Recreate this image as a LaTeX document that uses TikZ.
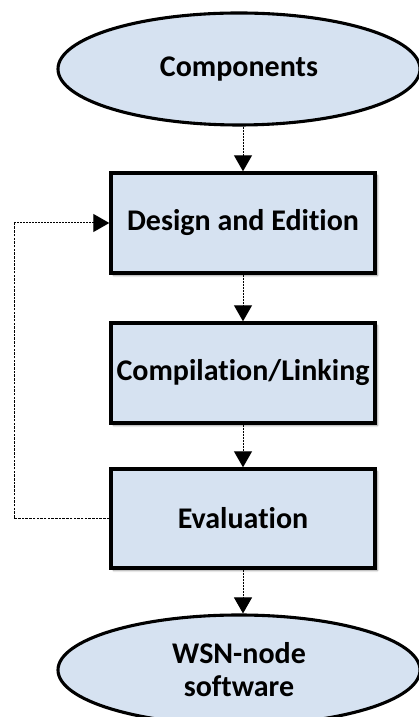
\documentclass[tikz,border=0pt]{standalone}
\usepackage{fontspec}
\setmainfont{Carlito}[Ligatures=NoCommon]
\usetikzlibrary{arrows.meta,shapes.geometric,shadows.blur}

\definecolor{boxfill}{RGB}{214,226,241}

\tikzset{
  stagebox/.style={draw=black, line width=3.4pt, fill=boxfill,
    minimum width=264pt, minimum height=100pt, inner sep=0pt,
    font=\fontsize{30}{36}\selectfont\bfseries,
    blur shadow={shadow xshift=2.5pt, shadow yshift=-2.5pt, shadow blur steps=6, shadow opacity=40}},
  endpoint/.style={ellipse, draw=black, line width=3.1pt, fill=boxfill,
    minimum width=362pt, minimum height=112pt, inner sep=0pt, align=center,
    font=\fontsize{30}{33}\selectfont\bfseries},
  flow/.style={line width=1pt, dash pattern=on 2pt off 1pt,
    -{Triangle[width=18pt,length=16pt]}},
  loopline/.style={line width=1pt, dash pattern=on 2.5pt off 1.2pt}
}

\begin{document}
\begin{tikzpicture}[x=1pt,y=1pt]
  \useasboundingbox (0,0) rectangle (419,717);

  \node[endpoint] (comp) at (239,648) {Components};
  \node[stagebox] (design) at (243,494) {Design and Edition};
  \node[stagebox] (compile) at (243,344) {Compilation/Linking};
  \node[stagebox, minimum height=99pt] (eval) at (243,198.5) {Evaluation};
  \node[endpoint, minimum height=110pt] (sw) at (239,47) {WSN-node\\software};

  \coordinate (loopbot) at (14,198.5);
  \coordinate (looptop) at (14,494);

  \draw[flow] (comp.south -| design.north) -- (design.north);
  \draw[flow] (design.south) -- (compile.north);
  \draw[flow] (compile.south) -- (eval.north);
  \draw[flow] (eval.south) -- (eval.south |- sw.north);

  \draw[loopline] (eval.west) -- (loopbot) -- (looptop);
  \draw[flow] (looptop) -- (design.west);
\end{tikzpicture}
\end{document}
